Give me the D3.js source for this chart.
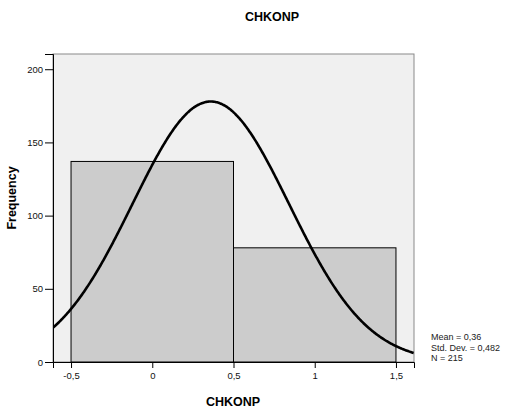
<!DOCTYPE html>
<html><head><meta charset="utf-8">
<script src="https://cdn.jsdelivr.net/npm/d3@7"></script>
<style>body{margin:0;background:#fff}svg{display:block;font-family:"Liberation Sans",Arial,sans-serif}</style>
</head><body>
<script>
const title = "CHKONP";
const binStarts = [-0.5, 0.5];
const binEnds = [0.5, 1.5];
const frequencies = [137, 78];
const xTicks = [-0.5, 0, 0.5, 1, 1.5];
const xTickLabels = ["-0,5", "0", "0,5", "1", "1,5"];
const yTicks = [0, 50, 100, 150, 200];
const mean = 0.36, stdDev = 0.482, n = 215, binWidth = 1;
const statsLines = ["Mean = 0,36", "Std. Dev. = 0,482", "N = 215"];

const W = 510, H = 412;
const L = 53, R = 414, T = 54, B = 362;
const svg = d3.select("body").append("svg").attr("width", W).attr("height", H);
const x = d3.scaleLinear().domain([-0.611, 1.611]).range([L, R]);
const y = d3.scaleLinear().domain([0, 210.4]).range([B, T]);

svg.append("rect").attr("x", L).attr("y", T).attr("width", R - L).attr("height", B - T)
  .attr("fill", "#f0f0f0").attr("stroke", "#8a8a8a").attr("stroke-width", 1);

svg.append("clipPath").attr("id", "c").append("rect")
  .attr("x", L).attr("y", T).attr("width", R - L).attr("height", B - T);

svg.selectAll("rect.bar").data(frequencies).enter().append("rect").attr("class", "bar")
  .attr("x", (d, i) => x(binStarts[i])).attr("y", d => y(d))
  .attr("width", (d, i) => x(binEnds[i]) - x(binStarts[i])).attr("height", d => y(0) - y(d))
  .attr("fill", "#cccccc").attr("stroke", "#000").attr("stroke-width", 1);

const pts = d3.range(-0.611, 1.6111, 0.005).map(v => [v, n * binWidth * Math.exp(-0.5 * ((v - mean) / stdDev) ** 2) / (stdDev * Math.sqrt(2 * Math.PI))]);
svg.append("path").datum(pts).attr("clip-path", "url(#c)")
  .attr("d", d3.line().x(d => x(d[0])).y(d => y(d[1])).curve(d3.curveBasis))
  .attr("fill", "none").attr("stroke", "#000").attr("stroke-width", 2.6);

const xa = svg.append("g").attr("transform", `translate(0,${B})`)
  .call(d3.axisBottom(x).tickValues(xTicks).tickFormat((d, i) => xTickLabels[i]).tickSizeOuter(0).tickSize(6).tickPadding(4));
const ya = svg.append("g").attr("transform", `translate(${L},0)`)
  .call(d3.axisLeft(y).tickValues(yTicks).tickSizeOuter(0).tickSize(8).tickPadding(2));
[xa, ya].forEach(a => {
  a.select(".domain").attr("stroke", "#000");
  a.selectAll("line").attr("stroke", "#000");
  a.selectAll("text").attr("font-size", "9.5px").attr("fill", "#111").attr("font-family", "Liberation Sans, Arial, sans-serif");
});

svg.append("text").attr("x", 272).attr("y", 21).attr("text-anchor", "middle")
  .attr("font-size", "12.5px").attr("font-weight", "bold").text(title);
svg.append("text").attr("x", 233).attr("y", 406).attr("text-anchor", "middle")
  .attr("font-size", "12.5px").attr("font-weight", "bold").text(title);
svg.append("text").attr("transform", `translate(16,198) rotate(-90)`).attr("text-anchor", "middle")
  .attr("font-size", "12.5px").attr("font-weight", "bold").text("Frequency");

svg.selectAll("text.stat").data(statsLines).enter().append("text").attr("class", "stat")
  .attr("x", 431).attr("y", (d, i) => 340 + i * 10.6).attr("font-size", "9px").attr("fill", "#222").text(d => d);
</script>
</body></html>
